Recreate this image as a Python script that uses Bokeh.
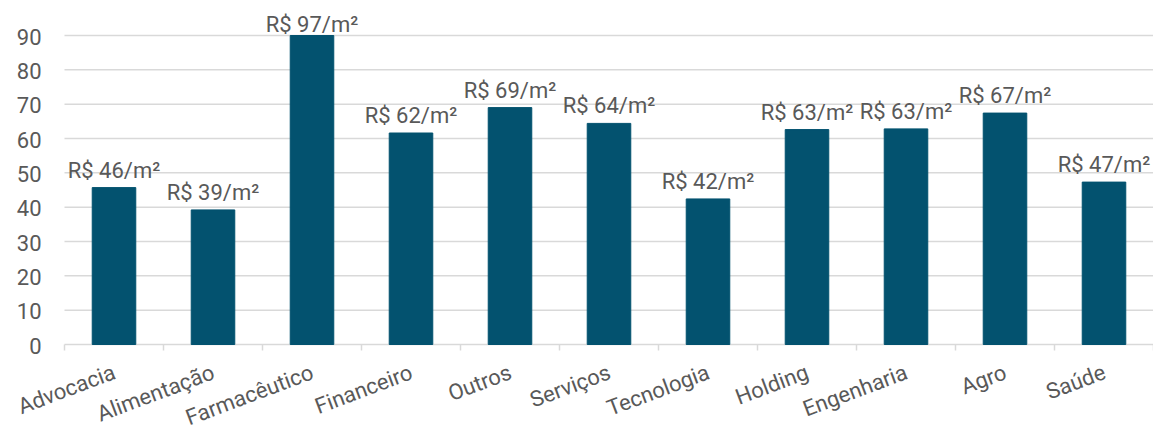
from bokeh.plotting import figure
from bokeh.models import ColumnDataSource, LabelSet, Range1d
from bokeh.core.properties import value
from bokeh.embed import file_html
from bokeh.resources import INLINE

categories = ["Advocacia", "Alimentação", "Farmacêutico", "Financeiro", "Outros",
              "Serviços", "Tecnologia", "Holding", "Engenharia", "Agro", "Saúde"]
values = [45.7, 39.2, 97.0, 61.6, 69.0, 64.4, 42.4, 62.6, 62.8, 67.4, 47.3]
y_ticks = [0, 10, 20, 30, 40, 50, 60, 70, 80, 90]
y_tick_labels = [str(t) for t in y_ticks]
y_max = 90

FONT = "Roboto"
TXT = "#595959"
GRID = "#d9d9d9"
BAR = "#03526F"

# layout (pixels)
W, H = 1153, 431
PLOT_LEFT, PLOT_TOP, PLOT_BOTTOM = 64, 35, 344

n = len(categories)
cat_px = (W - PLOT_LEFT) / n
ppu = (PLOT_BOTTOM - PLOT_TOP) / y_max
x_lo = -PLOT_LEFT / cat_px
y_hi = y_max + PLOT_TOP / ppu
y_lo = -(H - PLOT_BOTTOM) / ppu
tick_len = 6 / ppu

xc = [i + 0.5 for i in range(n)]
bounds = list(range(n + 1))
bar_top = [min(v, y_max) for v in values]
labels = [f"R$ {round(v)}/m²" for v in values]
offs = [4 if v > y_max else 10 for v in values]

src = ColumnDataSource(dict(x=xc, top=bar_top, lab=labels, off=offs, cat=categories,
                            zero=[0] * n))

p = figure(width=W, height=H, output_backend="svg", toolbar_location=None,
           x_range=Range1d(x_lo, n), y_range=Range1d(y_lo, y_hi),
           min_border=0, min_border_left=0, min_border_right=0,
           min_border_top=0, min_border_bottom=0)
p.outline_line_color = None
p.background_fill_color = "white"
p.border_fill_color = "white"
p.xaxis.visible = False
p.yaxis.visible = False
p.grid.visible = False

# horizontal gridlines over the category area
p.segment(x0=[0] * len(y_ticks), y0=y_ticks, x1=[n] * len(y_ticks), y1=y_ticks,
          line_color=GRID, line_width=1.5)
# boundary ticks below the category axis
p.segment(x0=bounds, y0=[0] * (n + 1), x1=bounds, y1=[-tick_len] * (n + 1),
          line_color=GRID, line_width=1.5)

# y tick labels
p.text(x=[0] * len(y_ticks), y=y_ticks, text=y_tick_labels,
       text_align="right", text_baseline="middle", x_offset=-23, y_offset=1,
       text_font=value(FONT), text_font_size="22px", text_color=TXT)

p.vbar(x="x", top="top", width=0.44, source=src, fill_color=BAR, line_color=BAR)

# category labels
p.text(x="x", y="zero", text="cat", source=src, angle=0.36,
       text_align="right", text_baseline="top", x_offset=-4, y_offset=15,
       text_font=value(FONT), text_font_size="22px", text_color=TXT)

ls = LabelSet(x="x", y="top", text="lab", y_offset="off", source=src,
              text_align="center", text_baseline="alphabetic",
              text_font=value(FONT), text_font_size=value("22px"), text_color=TXT)
p.add_layout(ls)

open("out.html", "w").write(file_html(p, INLINE))
